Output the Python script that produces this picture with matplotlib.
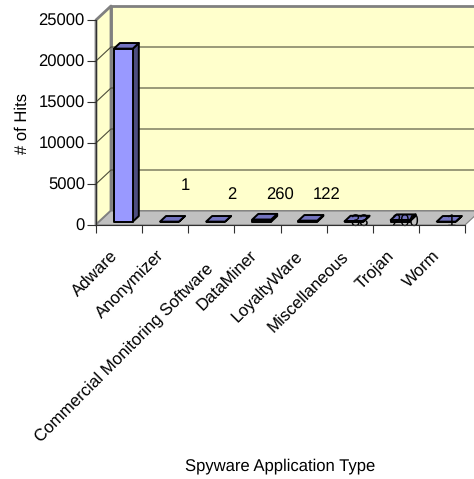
import matplotlib
matplotlib.use('Agg')
import matplotlib.pyplot as plt
from matplotlib.patches import Polygon
from matplotlib.transforms import IdentityTransform, offset_copy

plt.rcParams['font.family'] = ['Liberation Sans', 'DejaVu Sans']
plt.rcParams['text.hinting'] = 'none'

# hits per spyware type
categories = ['Adware', 'Anonymizer', 'Commercial Monitoring Software', 'DataMiner',
              'LoyaltyWare', 'Miscellaneous', 'Trojan', 'Worm']
hits = [21100, 1, 2, 260, 122, 33, 200, 1]
hit_labels = ['', '1', '2', '260', '122', '33', '200', '1']
y_ticks = [0, 5000, 10000, 15000, 20000, 25000]

# where each value label sits relative to its bar, in pixels
label_dx = [0, 10, 10, 12, 13, 0, -1, -1]
label_dy = [0, 39, 30, 30, 30, 3, 3, 3]
# extra shift of the long category label, which runs past its neighbours
cat_dx = [-9, -9, -6, -9, -9, -9, -10, -10]
cat_dy = [0, 0, -13, 0, -1, -1, 0, 0]

W, H = 474, 479
DEPTH_X, DEPTH_Y = 15, 14
BAR_WIDTH = 0.41
FONT = 12

fig = plt.figure(figsize=(W / 100, H / 100), dpi=100)
ax = fig.add_axes([96 / W, (H - 225) / H, 369 / W, 205 / H])
ax.set_xlim(0, 8)
ax.set_ylim(0, 25000)
ax.patch.set_visible(False)


def px(x, y, depth=0.0):
    # data position pushed back along the chart depth, in display pixels
    p = ax.transData.transform((x, y))
    return (p[0] + DEPTH_X * depth, p[1] + DEPTH_Y * depth)


def face(points, color, edge, lw, z):
    ax.add_patch(Polygon(points, closed=True, facecolor=color, edgecolor=edge, linewidth=lw,
                         transform=IdentityTransform(), clip_on=False, zorder=z, joinstyle='round'))


# walls and floor
face([px(0, 0, 1), px(8, 0, 1), px(8, 25000, 1), px(0, 25000, 1)], '#ffffcc', '#808080', 2, 1)
face([px(0, 0), px(0, 0, 1), px(0, 25000, 1), px(0, 25000)], '#ffffcc', '#808080', 2, 1.1)
face([px(0, 0), px(8, 0), px(8, 0, 1), px(0, 0, 1)], '#c0c0c0', '#808080', 0.8, 1.2)

# gridlines across the side wall and the back wall
for t in y_ticks[1:-1]:
    a, b, c = px(0, t), px(0, t, 1), px(8, t, 1)
    ax.add_line(plt.Line2D([a[0], b[0], c[0]], [a[1], b[1], c[1]], color='#4d4d3a', lw=0.8,
                           transform=IdentityTransform(), clip_on=False, zorder=1.5))

# bars: front, side and top faces
for i, v in enumerate(hits):
    x0 = i + 0.5 - BAR_WIDTH / 2 + 0.015
    x1 = x0 + BAR_WIDTH
    d0, d1 = 0.24, 0.64
    face([px(x1, 0, d0), px(x1, 0, d1), px(x1, v, d1), px(x1, v, d0)], '#4d4d80', 'black', 1.4, 3)
    face([px(x0, v, d0), px(x1, v, d0), px(x1, v, d1), px(x0, v, d1)], '#7373bf', 'black', 1.4, 3)
    face([px(x0, 0, d0), px(x1, 0, d0), px(x1, v, d0), px(x0, v, d0)], '#9999ff', 'black', 1.4, 3)
    if hit_labels[i]:
        cx = px((x0 + x1) / 2, 0, (d0 + d1) / 2)[0]
        ax.text(cx + 3 + label_dx[i], H - 225 + label_dy[i], hit_labels[i], transform=IdentityTransform(),
                ha='center', va='center', fontsize=FONT, color='black', zorder=4, clip_on=False)

for side in ['top', 'right']:
    ax.spines[side].set_visible(False)
for side in ['left', 'bottom']:
    ax.spines[side].set_color('#303030')
    ax.spines[side].set_linewidth(0.8)
    ax.spines[side].set_zorder(5)

ax.set_yticks(y_ticks)
ax.tick_params(axis='y', length=6.5, width=0.8, labelsize=FONT, pad=1.5, color='#303030')
ax.set_xticks(range(9))
ax.set_xticklabels([])
ax.tick_params(axis='x', which='major', length=5.5, width=0.8, color='#303030')
ax.set_xticks([i + 0.5 for i in range(8)], minor=True)
ax.set_xticklabels(categories, minor=True, rotation=45, ha='right', va='top',
                   rotation_mode='anchor', fontsize=12.2)
ax.tick_params(axis='x', which='minor', length=0, pad=16)
fig.canvas.draw()
for lab, dx, dy in zip(ax.get_xticklabels(minor=True), cat_dx, cat_dy):
    lab.set_transform(offset_copy(lab.get_transform(), fig=fig, x=dx, y=dy, units='dots'))

ax.set_xlabel('Spyware Application Type', fontsize=FONT)
ax.xaxis.set_label_coords((280 - 96) / 369, -(466 - 225) / 205, transform=ax.transAxes)
ax.xaxis.label.set_va('center')
ax.set_ylabel('# of Hits', fontsize=FONT)
ax.yaxis.set_label_coords((22 - 96) / 369, (225 - 123) / 205, transform=ax.transAxes)
ax.yaxis.label.set_va('center')

fig.savefig('out.png', dpi=100)
